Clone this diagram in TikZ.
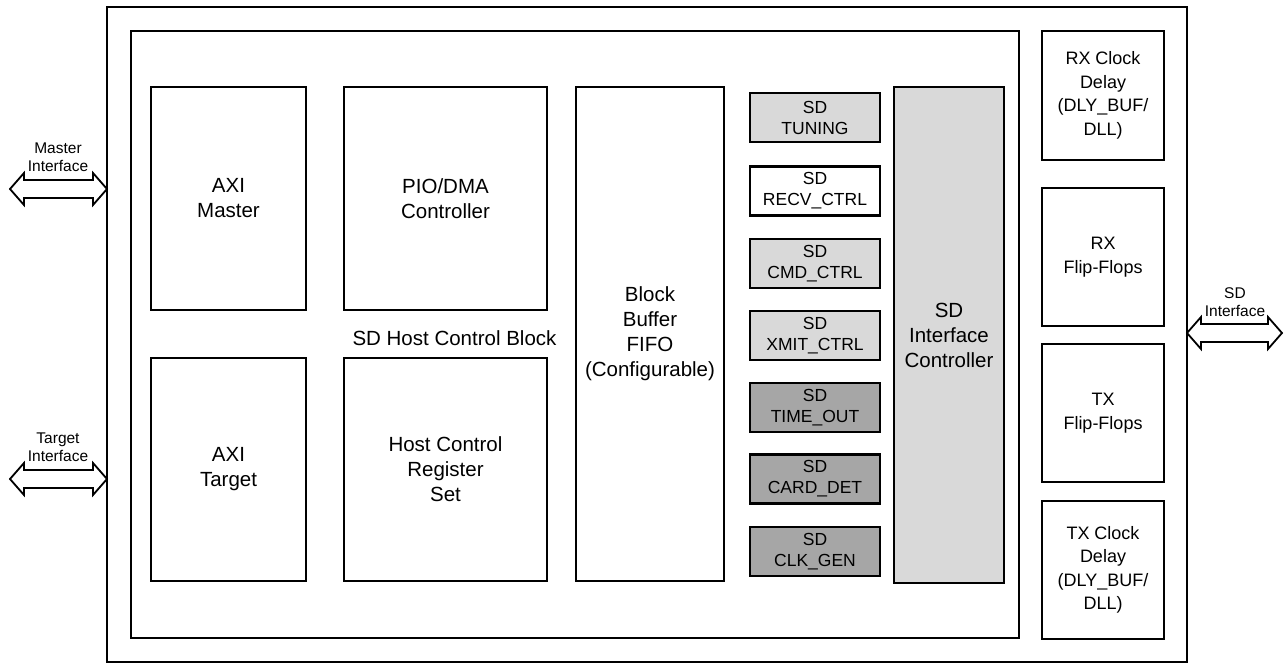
\documentclass[tikz,border=0pt]{standalone}
\usepackage{fontspec}
\setmainfont{Liberation Sans}
\definecolor{lgray}{HTML}{D9D9D9}
\definecolor{dgray}{HTML}{A6A6A6}
\tikzset{
  blk/.style={draw=black, line width=2pt, rectangle, inner sep=0pt, align=center,
    font=\fontsize{20.5}{25}\selectfont},
  sm/.style={draw=black, line width=2.2pt, rectangle, inner sep=0pt, align=center,
    minimum width=130, minimum height=49, font=\fontsize{17.5}{21}\selectfont},
  rc/.style={draw=black, line width=2pt, rectangle, inner sep=0pt, align=center,
    minimum width=122, font=\fontsize{18}{23.5}\selectfont},
  frame/.style={draw=black, line width=2pt},
  dblarr/.style={draw=black, fill=white, line width=1.8pt, line join=miter},
  lbl/.style={align=center, inner sep=0pt, font=\fontsize{15.5}{18.5}\selectfont},
}
\begin{document}
\begin{tikzpicture}[x=1pt, y=-1pt]
\useasboundingbox (0,0) rectangle (1285,666);
% frames
\draw[frame] (107,7) rectangle (1187,662);
\draw[frame] (131,31) rectangle (1019,638);
% main blocks
\node[blk, minimum width=155, minimum height=223] (axim) at (228.5,198.5) {AXI\\Master};
\node[blk, minimum width=155, minimum height=223] (axit) at (228.5,469.5) {AXI\\Target};
\node[blk, minimum width=203, minimum height=223] (pio) at (445.5,198.5) {PIO/DMA\\Controller};
\node[blk, minimum width=203, minimum height=223] (hcr) at (445.5,469.5) {Host Control\\Register\\Set};
\node[inner sep=0pt, font=\fontsize{20.5}{25}\selectfont] (shcb) at (454.5,338) {SD Host Control Block};
\node[blk, minimum width=148, minimum height=494] (bbf) at (650,334) {Block\\Buffer\\FIFO\\(Configurable)};
% small SD blocks
\node[sm, fill=lgray] (tun) at (815,117.5) {SD\\TUNING};
\node[sm, fill=white] (recv) at (815,191) {SD\\RECV\_CTRL};
\node[sm, fill=lgray] (cmd) at (815,263.5) {SD\\CMD\_CTRL};
\node[sm, fill=lgray] (xmit) at (815,335.5) {SD\\XMIT\_CTRL};
\node[sm, fill=dgray] (tout) at (815,407.5) {SD\\TIME\_OUT};
\node[sm, fill=dgray] (card) at (815,479) {SD\\CARD\_DET};
\node[sm, fill=dgray] (clk) at (815,551.5) {SD\\CLK\_GEN};
\node[blk, fill=lgray, minimum width=110, minimum height=496] (sdic) at (949,335) {SD\\Interface\\Controller};
% right column
\node[rc, minimum height=129] (rxcd) at (1103,95.5) {RX Clock\\Delay\\(DLY\_BUF/\\DLL)};
\node[rc, minimum height=138] (rxff) at (1103,257) {RX\\Flip-Flops};
\node[rc, minimum height=138] (txff) at (1103,413) {TX\\Flip-Flops};
\node[rc, minimum height=138] (txcd) at (1103,570) {TX Clock\\Delay\\(DLY\_BUF/\\DLL)};
% interface arrows
\coordinate (mL) at (10,189);
\coordinate (tL) at (10,479);
\coordinate (sR) at (1187,333);
\draw[dblarr] (mL) -- ++(14,-16) -- ++(0,7) -- ++(69,0) -- ++(0,-7) -- ++(14,16)
  -- ++(-14,16) -- ++(0,-7) -- ++(-69,0) -- ++(0,7) -- cycle;
\draw[dblarr] (tL) -- ++(14,-16) -- ++(0,7) -- ++(69,0) -- ++(0,-7) -- ++(14,16)
  -- ++(-14,16) -- ++(0,-7) -- ++(-69,0) -- ++(0,7) -- cycle;
\draw[dblarr] (sR) -- ++(14,-16) -- ++(0,7) -- ++(67,0) -- ++(0,-7) -- ++(14,16)
  -- ++(-14,16) -- ++(0,-7) -- ++(-67,0) -- ++(0,7) -- cycle;
\node[lbl] (mlab) at (58,157) {Master\\Interface};
\node[lbl] (tlab) at (58,447) {Target\\Interface};
\node[lbl] (slab) at (1235,302) {SD\\Interface};
\end{tikzpicture}
\end{document}
